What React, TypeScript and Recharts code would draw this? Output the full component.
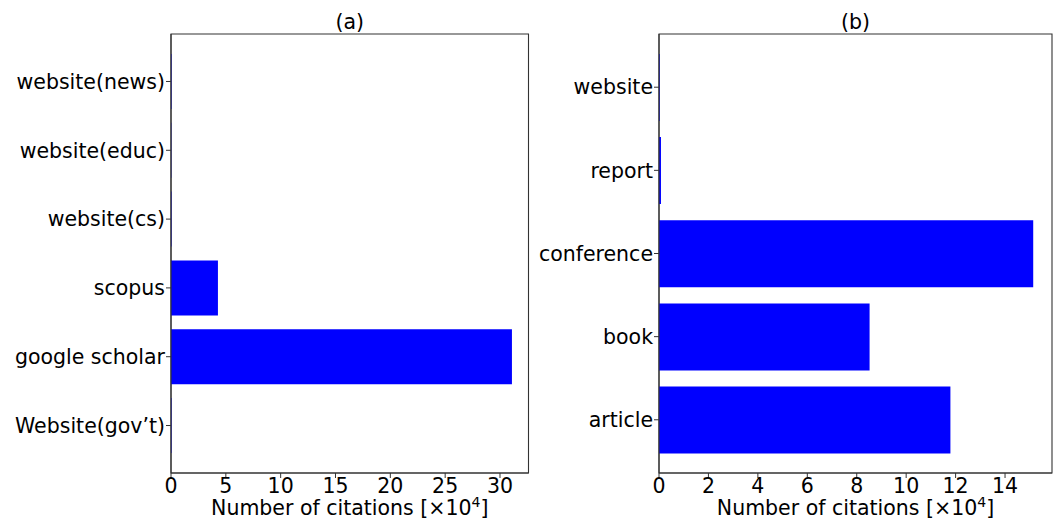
import React from "react";
import { BarChart, Bar, XAxis, YAxis, Label, ReferenceArea } from "recharts";

const leftCategories = ["website(news)", "website(educ)", "website(cs)", "scopus", "google scholar", "Website(gov\u2019t)"];
const leftValues = [0.05, 0.03, 0.05, 4.28, 31.09, 0.05];
const leftTicks = [0, 5, 10, 15, 20, 25, 30];

const rightCategories = ["website", "report", "conference", "book", "article"];
const rightValues = [0.03, 0.08, 15.14, 8.52, 11.79];
const rightTicks = [0, 2, 4, 6, 8, 10, 12, 14];

const leftData = leftCategories.map((name, i) => ({ name, idx: i, value: leftValues[i] }));
const rightData = rightCategories.map((name, i) => ({ name, idx: i, value: rightValues[i] }));

const FONT = "DejaVu Sans, sans-serif";
const FS = 20.5;
const AX = "#333";

const XLabel = (props: any) => {
  const vb = props.viewBox || {};
  const cx = vb.x + vb.width / 2;
  return (
    <text x={cx} y={vb.y + 42} textAnchor="middle" fontFamily={FONT} fontSize={FS} fill="#000">
      <tspan>Number of citations [×10</tspan>
      <tspan dy={-8} fontSize={14}>4</tspan>
      <tspan dy={8}>]</tspan>
    </text>
  );
};

const makeTitle = (t: string) => (props: any) => {
  const vb = props.viewBox || {};
  const cx = vb.x + vb.width / 2;
  return (
    <text x={cx} y={vb.y - 5} textAnchor="middle" fontFamily={FONT} fontSize={FS} fill="#000">
      {t}
    </text>
  );
};

type PanelProps = {
  data: { name: string; idx: number; value: number }[];
  categories: string[];
  width: number;
  yWidth: number;
  rightMargin: number;
  domainMax: number;
  ticks: number[];
  title: string;
};

const Panel = ({ data, categories, width, yWidth, rightMargin, domainMax, ticks, title }: PanelProps) => {
  const n = categories.length;
  const m = 0.05 * (n - 1 + 0.8);
  const yMin = -0.4 - m;
  const yMax = n - 1 + 0.4 + m;
  const yTicks = categories.map((_, i) => i);
  return (
    <BarChart
      width={width}
      height={521}
      data={data}
      layout="vertical"
      margin={{ top: 34, right: rightMargin, bottom: 0, left: 0 }}
      barCategoryGap="10%"
    >
      <XAxis
        type="number"
        domain={[0, domainMax]}
        ticks={ticks}
        allowDataOverflow
        height={48}
        tickSize={5}
        tickMargin={0}
        stroke={AX}
        tick={{ fill: "#000", fontFamily: FONT, fontSize: FS }}
        axisLine={{ stroke: AX, strokeWidth: 1.1 }}
        tickLine={{ stroke: AX }}
      >
        <Label content={XLabel} />
      </XAxis>
      <YAxis
        type="number"
        dataKey="idx"
        domain={[yMin, yMax]}
        allowDataOverflow
        ticks={yTicks}
        tickFormatter={(v: number) => categories[v] ?? ""}
        width={yWidth}
        tickSize={5}
        tickMargin={1}
        interval={0}
        stroke={AX}
        tick={{ fill: "#000", fontFamily: FONT, fontSize: FS }}
        axisLine={{ stroke: AX, strokeWidth: 1.1 }}
        tickLine={{ stroke: AX }}
      />
      <Bar dataKey="value" fill="#0000ff" isAnimationActive={false} />
      <ReferenceArea
        x1={0}
        x2={domainMax}
        y1={yMin}
        y2={yMax}
        fill="none"
        fillOpacity={0}
        stroke={AX}
        strokeWidth={1.1}
        ifOverflow="visible"
      >
        <Label content={makeTitle(title)} />
      </ReferenceArea>
    </BarChart>
  );
};

export default function App() {
  return (
    <div style={{ position: "absolute", left: 0, top: 0, width: 1057, height: 521, background: "#fff" }}>
      <div style={{ position: "absolute", left: 0, top: 0 }}>
        <Panel
          data={leftData}
          categories={leftCategories}
          width={540}
          yWidth={171}
          rightMargin={11.5}
          domainMax={32.6}
          ticks={leftTicks}
          title="(a)"
        />
      </div>
      <div style={{ position: "absolute", left: 520, top: 0 }}>
        <Panel
          data={rightData}
          categories={rightCategories}
          width={537}
          yWidth={139}
          rightMargin={5}
          domainMax={15.9}
          ticks={rightTicks}
          title="(b)"
        />
      </div>
    </div>
  );
}
